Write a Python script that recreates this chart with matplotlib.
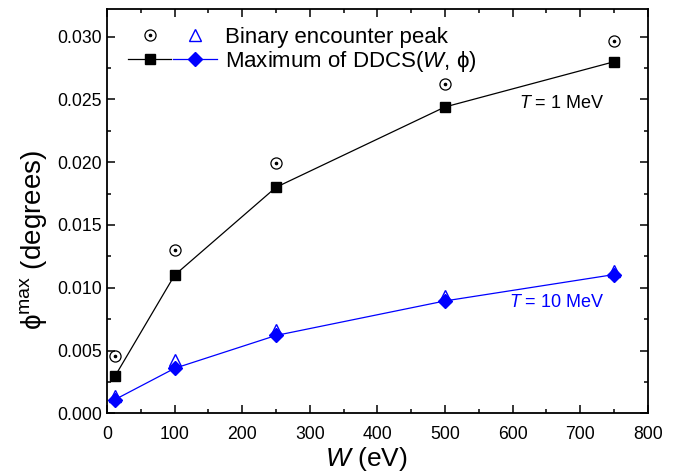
import matplotlib
matplotlib.use("Agg")
import matplotlib.pyplot as plt
from matplotlib.legend_handler import HandlerTuple
from matplotlib.ticker import MultipleLocator

plt.rcParams['font.family'] = ['Liberation Sans', 'DejaVu Sans']
plt.rcParams['mathtext.fontset'] = 'custom'
plt.rcParams['mathtext.rm'] = 'Liberation Sans'
plt.rcParams['mathtext.it'] = 'Liberation Sans:italic'

W = [12, 100, 250, 500, 750]
bep_1MeV = [0.00456, 0.01303, 0.01990, 0.02625, 0.02965]
max_1MeV = [0.00297, 0.01100, 0.01800, 0.02440, 0.02800]
bep_10MeV = [0.00135, 0.00425, 0.00665, 0.00935, 0.01135]
max_10MeV = [0.00110, 0.00358, 0.00620, 0.00895, 0.01105]

fig = plt.figure(figsize=(6.84, 4.76), dpi=100)
ax = fig.add_axes([0.1564, 0.1317, 0.7906, 0.8493])

blue = '#0000ff'
l1, = ax.plot(W, max_1MeV, '-', color='black', lw=0.9, marker='s', ms=7, mfc='black', mec='black')
l2, = ax.plot(W, max_10MeV, '-', color=blue, lw=0.9, marker='D', ms=7, mfc=blue, mec=blue)
c1, = ax.plot(W, bep_1MeV, ls='none', marker='o', ms=8, mfc='none', mec='black', mew=0.9)
c2, = ax.plot(W, bep_1MeV, ls='none', marker='o', ms=1.6, mfc='black', mec='black')
t1, = ax.plot(W, bep_10MeV, ls='none', marker='^', ms=8.5, mfc='none', mec=blue, mew=1.0)

ax.set_xlim(0, 800)
ax.set_ylim(0, 0.0322)
ax.xaxis.set_major_locator(MultipleLocator(100))
ax.xaxis.set_minor_locator(MultipleLocator(50))
ax.yaxis.set_major_locator(MultipleLocator(0.005))
ax.yaxis.set_minor_locator(MultipleLocator(0.0025))
ax.yaxis.set_major_formatter(matplotlib.ticker.FormatStrFormatter('%.3f'))
ax.tick_params(which='both', direction='in', top=True, right=True, labelsize=12.7, width=1.1)
ax.tick_params(which='major', length=5.5)
ax.tick_params(which='minor', length=3)
ax.tick_params(axis='x', which='major', pad=9)
for s in ax.spines.values():
    s.set_linewidth(1.3)

ax.set_xlabel('$W$ (eV)', fontsize=19)
ax.set_ylabel('ϕ$^{\\mathrm{max}}$ (degrees)', fontsize=20)
ax.xaxis.set_label_coords(0.48, -0.079, transform=ax.transAxes)
ax.yaxis.set_label_coords(-0.108, 0.43, transform=ax.transAxes)
ax.xaxis.label.set_va('top')

ax.text(609, 0.02465, '$T$ = 1 MeV', fontsize=13, color='black', va='center', ha='left')
ax.text(595, 0.00885, '$T$ = 10 MeV', fontsize=13, color=blue, va='center', ha='left')

circ = (c1, c2)
row1 = (circ, t1)
row2 = (l1, l2)
leg = ax.legend([row1, row2],
                ['Binary encounter peak', 'Maximum of DDCS($W$, ϕ)'],
                handler_map={circ: HandlerTuple(ndivide=1),
                             row1: HandlerTuple(ndivide=None, pad=0.1),
                             row2: HandlerTuple(ndivide=None, pad=0.1)},
                loc='upper left', bbox_to_anchor=(0.01, 0.995), frameon=False,
                fontsize=16, handlelength=4.0, handletextpad=0.35, labelspacing=0.05,
                borderaxespad=0.3)

fig.savefig('out.png', dpi=100)
